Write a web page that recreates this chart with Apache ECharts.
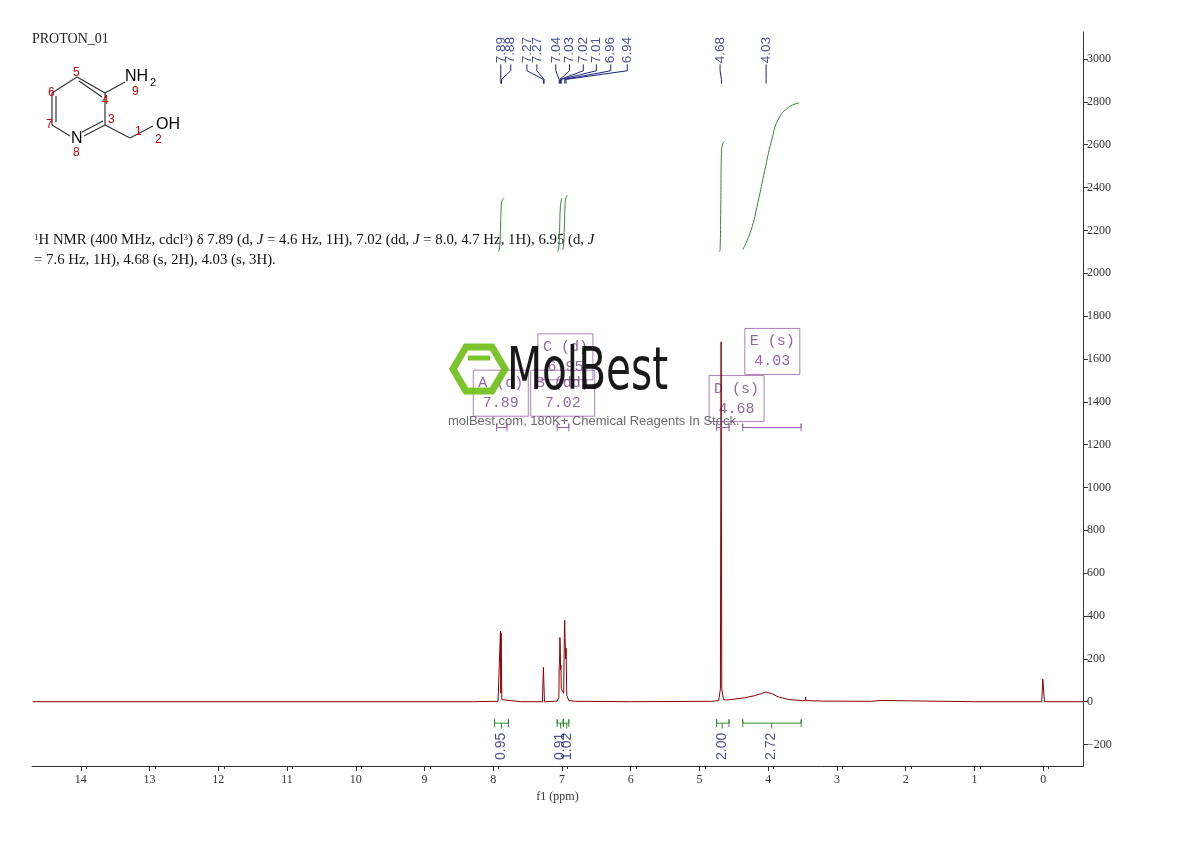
<!DOCTYPE html>
<html><head><meta charset="utf-8">
<script src="https://cdn.jsdelivr.net/npm/echarts@6/dist/echarts.min.js"></script>
<style>html,body{margin:0;padding:0;background:#fff}#c{width:1190px;height:841px}</style>
</head><body><div id="c"></div>
<script>
// Spectrum points [ppm, intensity]
var spectrum = [[14.7,0],[8.3,0],[7.93,2],[7.905,10],[7.895,330],[7.89,40],[7.885,320],[7.875,10],[7.85,2],[7.6,0],
 [7.285,0],[7.27,160],[7.255,0],[7.07,3],[7.045,20],[7.04,170],[7.035,180],[7.03,300],[7.025,260],[7.02,150],[7.015,170],[7.01,60],
 [6.975,40],[6.965,320],[6.96,380],[6.955,300],[6.945,200],[6.94,250],[6.93,30],[6.9,5],[6.8,2],[6.0,0],[4.85,2],[4.83,8],[4.82,2],
 [4.72,5],[4.695,60],[4.685,1680],[4.675,60],[4.65,10],[4.6,8],[4.5,12],[4.35,18],[4.2,28],[4.1,38],[4.03,45],[3.95,38],[3.85,22],
 [3.7,10],[3.5,5],[3.46,6],[3.455,22],[3.45,5],[3.2,3],[2.5,2],[2.37,6],[2.36,2],[1.0,0],[0.02,0],[0.005,105],[-0.005,105],[-0.02,0],[-0.58,0]];
var peakLabels = ['7.89','7.88','7.27','7.27','7.04','7.03','7.02','7.01','6.96','6.94','4.68','4.03'];
var peakPos = [7.89,7.88,7.27,7.26,7.04,7.03,7.02,7.01,6.96,6.94,4.68,4.03];
var labelPos = [7.89,7.745,7.51,7.365,7.09,6.89,6.69,6.50,6.29,6.05,4.70,4.03];
var integral1 = [[7.93,2100],[7.91,2110],[7.895,2200],[7.885,2300],[7.87,2340],[7.84,2350]];
var integral2 = [[7.07,2100],[7.05,2110],[7.035,2200],[7.025,2300],[7.01,2340],[7.0,2350]];
var integral3 = [[7.00,2110],[6.98,2120],[6.965,2220],[6.955,2320],[6.94,2355],[6.92,2365]];
var integral4 = [[4.72,2100],[4.70,2110],[4.69,2300],[4.68,2560],[4.665,2600],[4.64,2615]];
var integral5 = [[4.37,2110],[4.25,2200],[4.15,2330],[4.05,2480],[3.95,2620],[3.85,2720],[3.7,2775],[3.55,2795]];
var intRanges = [[7.98,7.78],[7.07,6.98],[6.98,6.90],[4.75,4.57],[4.37,3.52]];
var intValues = ['0.95','0.91','1.02','2.00','2.72'];
var intLabelPos = [7.88,7.02,6.93,4.67,3.95];
var boxes = [['C (d)\n6.95',6.95,1610],['A (d)\n7.89',7.89,1440],['B (dd)\n7.02',6.99,1440],['D (s)\n4.68',4.46,1415],['E (s)\n4.03',3.94,1635]];
var boxRanges = [[7.95,7.80],[7.07,6.90],[4.75,4.57],[4.37,3.52]];
var xTicks = [14,13,12,11,10,9,8,7,6,5,4,3,2,1,0];
var yTicks = [-200,0,200,400,600,800,1000,1200,1400,1600,1800,2000,2200,2400,2600,2800,3000];

var chart = echarts.init(document.getElementById('c'));
var series = [];
series.push({type:'line',data:spectrum,symbol:'none',lineStyle:{color:'#8b0000',width:1},z:3,animation:false});
[integral1,integral2,integral3,integral4,integral5].forEach(function(d){
  series.push({type:'line',data:d,symbol:'none',smooth:true,lineStyle:{color:'#2e8b2e',width:1},animation:false});
});
peakPos.forEach(function(p,i){
  series.push({type:'line',data:[[labelPos[i],2975],[labelPos[i],2945],[p,2905],[p,2885]],symbol:'none',lineStyle:{color:'#1a237e',width:1},animation:false});
});
series.push({type:'scatter',data:labelPos.map(function(x){return [x,2980];}),symbolSize:0,
  label:{show:true,formatter:function(p){return peakLabels[p.dataIndex];},rotate:90,position:[0,0],align:'left',verticalAlign:'middle',color:'#1a237e',fontSize:13.5,fontFamily:'Liberation Sans'},animation:false});
function bar(r,y,h,c,mid){
  var d=[[r[0],y-h],[r[0],y+h],[r[0],y],[r[1],y],[r[1],y+h],[r[1],y-h]];
  series.push({type:'line',data:d,symbol:'none',lineStyle:{color:c,width:1},animation:false});
  if(mid!=null) series.push({type:'line',data:[[mid,y],[mid,y-25]],symbol:'none',lineStyle:{color:c,width:1},animation:false});
}
intRanges.forEach(function(r,i){bar(r,-100,18,'#2e8b2e',intLabelPos[i]);});
series.push({type:'scatter',data:intLabelPos.map(function(x){return [x,-145];}),symbolSize:0,
  label:{show:true,formatter:function(p){return intValues[p.dataIndex];},rotate:90,position:[0,0],align:'right',verticalAlign:'middle',color:'#1a237e',fontSize:14,fontFamily:'Liberation Sans'},animation:false});
series.push({type:'scatter',data:boxes.map(function(b){return [b[1],b[2]];}),symbolSize:0,z:2,
  label:{show:true,formatter:function(p){return boxes[p.dataIndex][0];},position:'inside',color:'#7b3f8c',fontSize:15,lineHeight:20,fontFamily:'Liberation Mono',borderColor:'#9b5fa8',borderWidth:1,padding:[3,5]},animation:false});
boxRanges.forEach(function(r){bar(r,1280,18,'#9b5fa8',null);});

var G = [];
function ln(x1,y1,x2,y2,c){G.push({type:'line',shape:{x1:x1,y1:y1,x2:x2,y2:y2},style:{stroke:c||'#333',lineWidth:1.2}});}
function tx(x,y,t,s,c,f){G.push({type:'text',x:x,y:y,style:{text:t,fontSize:s,fill:c||'#000',fontFamily:f||'Liberation Sans',textVerticalAlign:'middle'}});}
ln(77,77,105,93);ln(79,81,102,97);ln(105,93,105,125);ln(105,125,84,136);ln(103,121,82,132);ln(70,136,52,125);ln(52,125,52,93);ln(56,122,56,96);ln(52,93,77,77);
ln(105,93,125,82);ln(105,125,130,138);ln(130,138,153,126);
tx(125,77,'NH',16);tx(150,83,'2',11);tx(156,125,'OH',16);tx(71,139,'N',16);
tx(73,73,'5',12,'#c00');tx(102,101,'4',12,'#c00');tx(132,92,'9',12,'#c00');tx(48,93,'6',12,'#c00');tx(46,125,'7',12,'#c00');tx(108,120,'3',12,'#c00');tx(135,132,'1',12,'#c00');tx(155,140,'2',12,'#c00');tx(73,153,'8',12,'#c00');
tx(32,39,'PROTON_01',14,'#222','Liberation Serif');
G.push({type:'text',x:34,y:233,style:{rich:{s:{fontSize:9,fontFamily:'Liberation Serif',verticalAlign:'top'},n:{fontSize:14.8,fontFamily:'Liberation Serif'},i:{fontSize:14.8,fontFamily:'Liberation Serif',fontStyle:'italic'}},text:'{s|1}{n|H NMR (400 MHz, cdcl}{s|3}{n|) δ 7.89 (d, }{i|J}{n| = 4.6 Hz, 1H), 7.02 (dd, }{i|J}{n| = 8.0, 4.7 Hz, 1H), 6.95 (d, }{i|J}',fill:'#111'}});
G.push({type:'text',x:34,y:253,style:{text:'= 7.6 Hz, 1H), 4.68 (s, 2H), 4.03 (s, 3H).',fontSize:14.8,fill:'#111',fontFamily:'Liberation Serif'}});
G.push({type:'polygon',shape:{points:[[466,347],[492,347],[505,369],[492,391],[466,391],[453,369]]},style:{fill:'none',stroke:'rgba(110,190,20,0.9)',lineWidth:7},z:10});
G.push({type:'line',shape:{x1:468,y1:358,x2:490,y2:358},style:{stroke:'rgba(110,190,20,0.9)',lineWidth:5},z:10});
G.push({type:'text',x:507,y:374,scaleX:0.7,style:{text:'MolBest',fontSize:58,fill:'rgba(0,0,0,0.9)',fontFamily:'DejaVu Sans',textVerticalAlign:'middle'},z:10});
G.push({type:'text',x:448,y:421,style:{text:'molBest.com, 180K+ Chemical Reagents In Stock.',fontSize:13,fill:'rgba(90,90,90,0.9)',fontFamily:'Liberation Sans',textVerticalAlign:'middle'},z:10});

chart.setOption({
  animation:false,
  grid:{left:32,right:107,top:32,bottom:75},
  xAxis:{type:'value',inverse:true,min:-0.58,max:14.71,interval:1,
    axisLine:{onZero:false,lineStyle:{color:'#333'}},axisTick:{length:5,customValues:xTicks},minorTick:{show:true,splitNumber:2,length:3},
    axisLabel:{color:'#333',fontSize:12,fontFamily:'Liberation Serif',customValues:xTicks,formatter:function(v){return Math.round(v);}},
    splitLine:{show:false},name:'f1 (ppm)',nameLocation:'middle',nameGap:22,nameTextStyle:{fontFamily:'Liberation Serif',fontSize:12,color:'#333'}},
  yAxis:{type:'value',position:'right',min:-300,max:3126,interval:200,
    axisLine:{show:true,onZero:false,lineStyle:{color:'#333'}},axisTick:{show:true,length:5,customValues:yTicks},
    minorTick:{show:true,splitNumber:2,length:3},
    axisLabel:{color:'#333',fontSize:12,margin:4,fontFamily:'Liberation Serif',customValues:yTicks,formatter:function(v){return (v<0?'−':'')+Math.abs(v);}},
    splitLine:{show:false}},
  series:series,
  graphic:G
});
</script></body></html>
